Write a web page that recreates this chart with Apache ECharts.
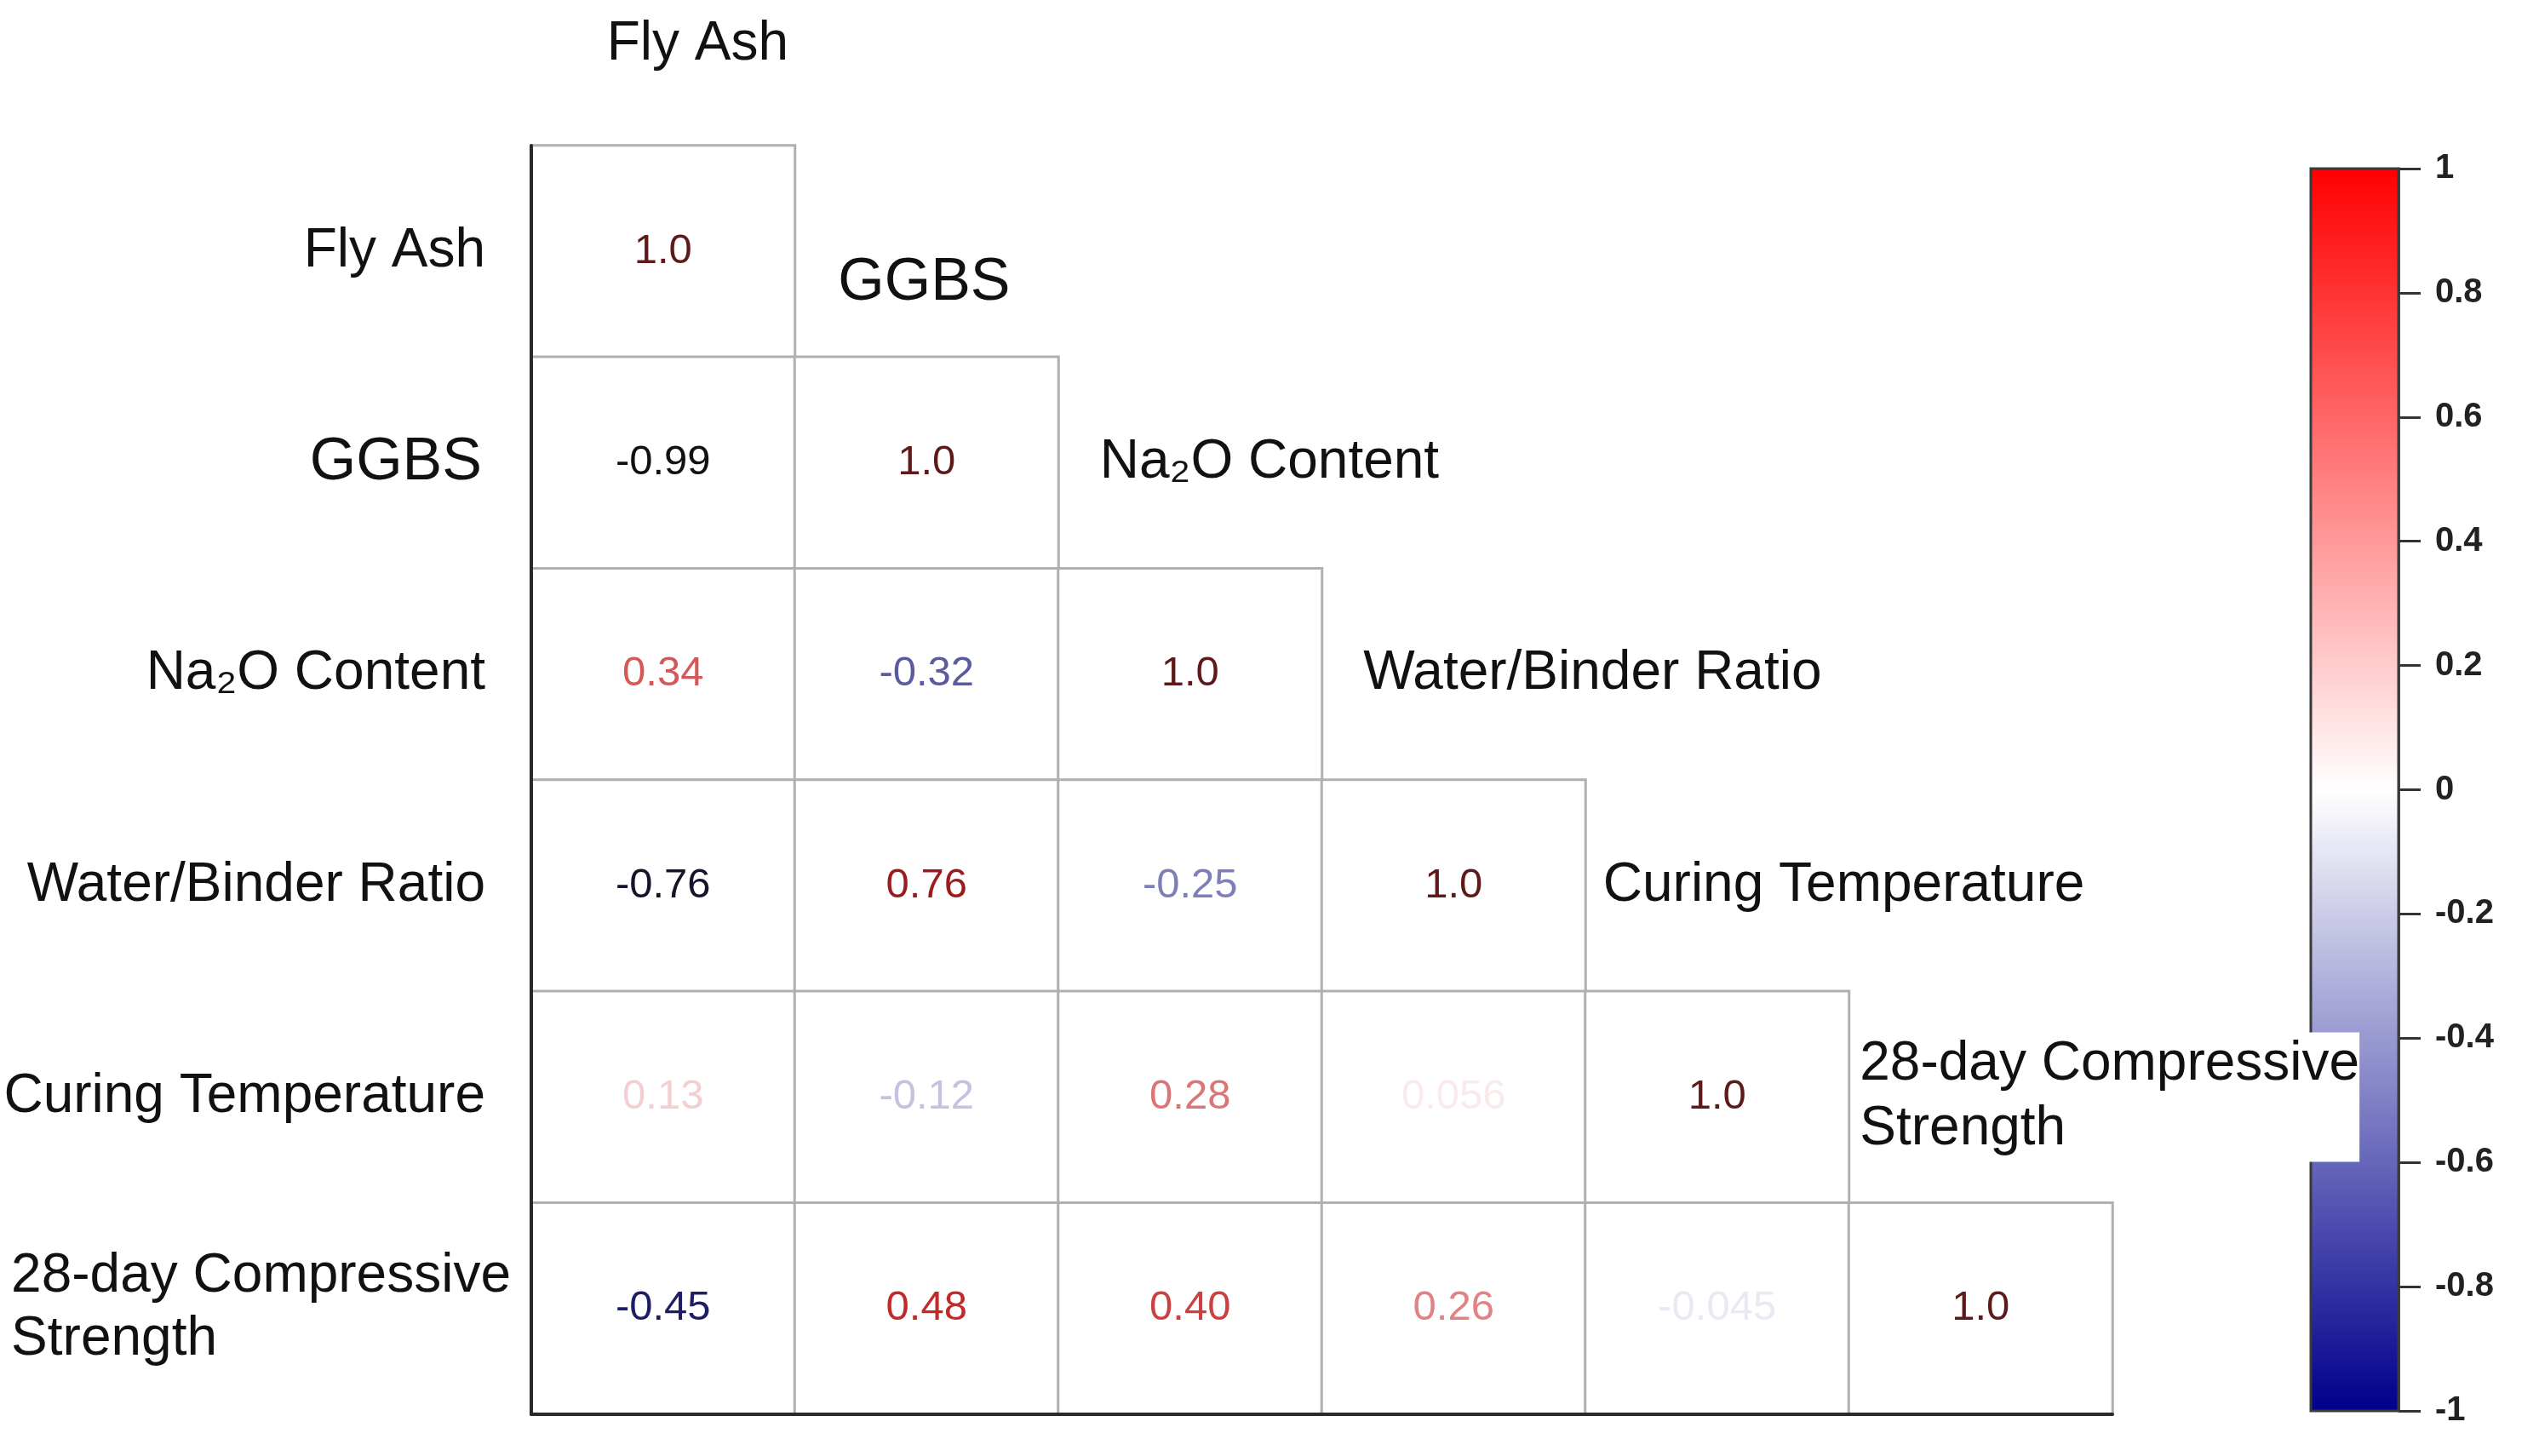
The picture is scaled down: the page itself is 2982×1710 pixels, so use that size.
<!DOCTYPE html>
<html>
<head>
<meta charset="utf-8">
<title>Correlation matrix</title>
<script src="https://cdn.jsdelivr.net/npm/echarts@6/dist/echarts.min.js"></script>
<style>
  html, body { margin: 0; padding: 0; background: #fff; }
  #chart { width: 2982px; height: 1710px; }
</style>
</head>
<body>
<div id="chart"></div>
<script>
const variables = ['Fly Ash', 'GGBS', 'Na₂O Content', 'Water/Binder Ratio', 'Curing Temperature', '28-day Compressive Strength']
// lower triangle: row i holds the correlations of variable i with variables 0..i
const corrFlyAsh = [1.0]
const corrGGBS = [-0.99, 1.0]
const corrNa2O = [0.34, -0.32, 1.0]
const corrWaterBinder = [-0.76, 0.76, -0.25, 1.0]
const corrCuring = [0.13, -0.12, 0.28, 0.056, 1.0]
const corrStrength = [-0.45, 0.48, 0.40, 0.26, -0.045, 1.0]
const corrRows = [corrFlyAsh, corrGGBS, corrNa2O, corrWaterBinder, corrCuring, corrStrength]
const colorbarMin = -1
const colorbarMax = 1
const colorbarStep = 0.2

const FONT = 'Liberation Sans, Arial, sans-serif'

// colour of the numbers inside the cells
const textStops = [
  [-1, '#111111'], [-0.6, '#16163a'], [-0.45, '#1e1e66'], [-0.3, '#6464a8'], [-0.15, '#b4b4d8'],
  [0, '#ffffff'], [0.15, '#f2c6ca'], [0.3, '#d86a6a'], [0.45, '#c42c2c'], [0.75, '#9c1c1c'], [1, '#5e1a1a']
]
function hexToRgb(h) {
  return [parseInt(h.substr(1, 2), 16), parseInt(h.substr(3, 2), 16), parseInt(h.substr(5, 2), 16)]
}
function textColor(v) {
  for (let k = 1; k < textStops.length; k++) {
    const a = textStops[k - 1]
    const b = textStops[k]
    if (v <= b[0]) {
      const t = (v - a[0]) / (b[0] - a[0])
      const ca = hexToRgb(a[1])
      const cb = hexToRgb(b[1])
      const c = ca.map((x, n) => Math.round(x + (cb[n] - x) * t))
      return 'rgb(' + c.join(',') + ')'
    }
  }
  return textStops[textStops.length - 1][1]
}

function wrapName(name) {
  return name.replace('Compressive ', 'Compressive\n')
}

const cellData = []
corrRows.forEach(function(row, i) {
  row.forEach(function(v, j) {
    cellData.push({ value: [j, i, v], label: { color: textColor(v) } })
  })
})

// diagonal header labels sit one row above each diagonal cell
const headerData = variables.map(function(name, j) {
  const item = { value: [j, j - 1], name: name }
  if (name === 'Fly Ash') item.label = { offset: [-70, 6] }
  if (name === 'GGBS') item.label = { fontSize: 70, offset: [-108, 38] }
  if (name === 'Curing Temperature') item.label = { offset: [-138, 0] }
  if (name.indexOf('Compressive') >= 0) item.label = { offset: [-146, 0] }
  return item
})

const myChart = echarts.init(document.getElementById('chart'))
const option = {
  animation: false,
  backgroundColor: '#ffffff',
  textStyle: { fontFamily: FONT },
  grid: [
    { left: 624, top: 171, width: 1857, height: 1490, containLabel: false, outerBoundsMode: 'none' },
    { left: 2714, top: 198, width: 103, height: 1459, containLabel: false, outerBoundsMode: 'none',
      show: true, borderColor: '#3a3a3a', borderWidth: 3, backgroundColor: 'transparent', z: 5 }
  ],
  visualMap: {
    show: false,
    seriesIndex: 0,
    dimension: 2,
    min: colorbarMin,
    max: colorbarMax,
    inRange: { color: ['#ffffff', '#ffffff'] }
  },
  xAxis: [
    {
      type: 'category',
      gridIndex: 0,
      data: variables,
      position: 'bottom',
      z: 10,
      axisLine: { show: true, lineStyle: { color: '#2a2a2a', width: 4 } },
      axisTick: { show: false },
      axisLabel: { show: false },
      splitLine: { show: false }
    },
    {
      type: 'category',
      gridIndex: 1,
      data: ['scale'],
      show: false
    }
  ],
  yAxis: [
    {
      type: 'category',
      gridIndex: 0,
      data: variables,
      inverse: true,
      z: 10,
      axisLine: { show: true, lineStyle: { color: '#2a2a2a', width: 4 } },
      axisTick: { show: false },
      splitLine: { show: false },
      axisLabel: {
        margin: 24,
        fontSize: 64,
        color: '#111',
        fontFamily: FONT,
        formatter: function(val) {
          if (val === 'GGBS') return '{big|GGBS}'
          const t = wrapName(val)
          if (t.indexOf('\n') < 0) return '{n|' + t + '}'
          return t.split('\n').map(function(s) { return '{ml|' + s + '}' }).join('\n')
        },
        rich: {
          n: { fontSize: 64, color: '#111', fontFamily: FONT, padding: [0, 30, 0, 0] },
          big: { fontSize: 70, color: '#111', fontFamily: FONT, padding: [0, 34, 0, 0] },
          ml: { fontSize: 64, color: '#111', align: 'left', lineHeight: 74, fontFamily: FONT }
        }
      }
    },
    {
      type: 'value',
      gridIndex: 1,
      position: 'right',
      min: colorbarMin,
      max: colorbarMax,
      interval: colorbarStep,
      axisLine: { show: true, lineStyle: { color: '#555', width: 3 } },
      axisTick: { show: true, length: 26, lineStyle: { color: '#333', width: 3 } },
      splitLine: { show: false },
      axisLabel: { margin: 43, fontSize: 40, fontWeight: 'bold', color: '#222', fontFamily: FONT }
    }
  ],
  series: [
    {
      type: 'heatmap',
      xAxisIndex: 0,
      yAxisIndex: 0,
      data: cellData,
      itemStyle: { color: '#ffffff', borderColor: '#b0b0b0', borderWidth: 3 },
      label: {
        show: true,
        fontSize: 49,
        fontFamily: FONT,
        formatter: function(p) { return p.value[2].toPrecision(2) }
      },
      emphasis: { disabled: true }
    },
    {
      type: 'scatter',
      xAxisIndex: 0,
      yAxisIndex: 0,
      clip: false,
      z: 10,
      symbolSize: 1,
      itemStyle: { color: '#ffffff', opacity: 1 },
      data: headerData,
      label: {
        show: true,
        position: 'inside',
        align: 'left',
        offset: [-110, 0],
        fontSize: 64,
        lineHeight: 76,
        color: '#111',
        fontFamily: FONT,
        backgroundColor: '#ffffff',
        padding: [0, 0, 0, 4],
        formatter: function(p) { return wrapName(p.name) }
      },
      emphasis: { disabled: true }
    },
    {
      type: 'bar',
      xAxisIndex: 1,
      yAxisIndex: 1,
      barWidth: '100%',
      silent: true,
      data: [
        {
          value: [0, colorbarMax],
          itemStyle: {
            color: { type: 'linear', x: 0, y: 0, x2: 0, y2: 1, colorStops: [{ offset: 0, color: '#ff0000' }, { offset: 1, color: '#ffffff' }] }
          }
        },
        {
          value: [0, colorbarMin],
          itemStyle: {
            color: { type: 'linear', x: 0, y: 0, x2: 0, y2: 1, colorStops: [{ offset: 0, color: '#ffffff' }, { offset: 1, color: '#00008c' }] }
          }
        }
      ]
    }
  ]
}
myChart.setOption(option)
</script>
</body>
</html>
